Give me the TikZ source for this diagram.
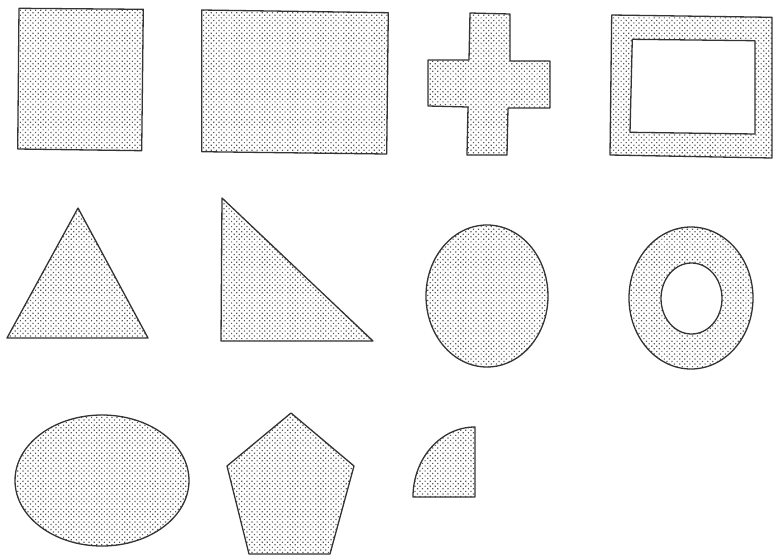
\documentclass[tikz,border=0pt]{standalone}
\usetikzlibrary{patterns.meta}
\tikzset{
  dotshape/.style={draw=black!80, line width=1.3pt, line join=round,
    pattern={Dots[distance=3.6pt, radius=0.85pt, angle=45]}, pattern color=black!65},
  holed/.style={dotshape, even odd rule}
}
\begin{document}
\begin{tikzpicture}[x=1pt,y=-1pt]
\useasboundingbox (0,0) rectangle (774,555);
% row 1
\path[dotshape] (19,8.3) -- (143.3,9.3) -- (141.7,150.7) -- (17.7,149) -- cycle;
\path[dotshape] (201.7,10) -- (388.3,12.7) -- (386.7,154) -- (201.7,151.7) -- cycle;
\path[dotshape] (470,13) -- (510,14) -- (510,61) -- (550,61) -- (550,108) -- (508,108)
  -- (507,155) -- (467,155) -- (468,107) -- (428,106) -- (428,60) -- (469,60) -- cycle;
\path[holed] (611.7,15) -- (772,17.3) -- (772,158) -- (610,155) -- cycle
  (632.3,39.3) -- (755,40.7) -- (755,134) -- (630,132.3) -- cycle;
% row 2
\path[dotshape] (78,208) -- (148,338) -- (7,338) -- cycle;
\path[dotshape] (222,198) -- (373,341) -- (221,341) -- cycle;
\path[dotshape] (487,296) ellipse [x radius=61, y radius=71];
\path[holed] (691,298) ellipse [x radius=62, y radius=71]
  (691.5,298.5) ellipse [x radius=30.5, y radius=35.5];
% row 3
\path[dotshape] (102,480.5) ellipse [x radius=87, y radius=65.5];
\path[dotshape] (291,413) -- (354,466) -- (330,554) -- (249,554) -- (227,466) -- cycle;
\path[dotshape] (413,497) .. controls (413,458.3) and (440.8,427) .. (475,427)
  -- (475,497) -- cycle;
\end{tikzpicture}
\end{document}
